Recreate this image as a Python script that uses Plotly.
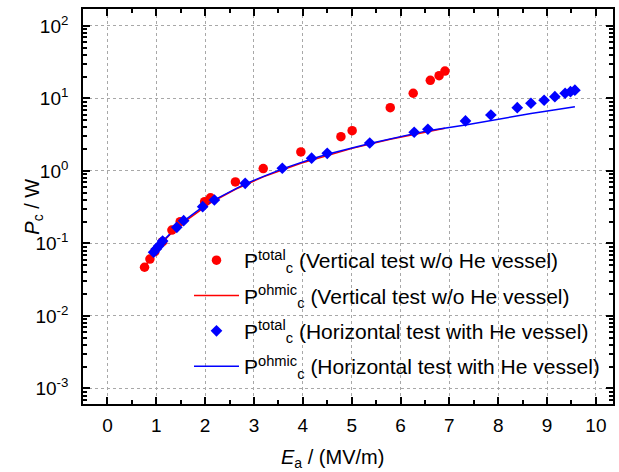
import plotly.graph_objects as go

# ---- data ----
red_x = [0.76, 0.87, 0.97, 1.13, 1.32, 1.49, 1.99, 2.11, 2.62, 3.19, 3.96, 4.78, 5.01, 5.79, 6.26, 6.61, 6.79, 6.91]
red_total = [0.047, 0.061, 0.077, 0.106, 0.153, 0.20, 0.377, 0.427, 0.705, 1.08, 1.83, 2.97, 3.6, 7.47, 11.8, 17.8, 20.6, 23.9]
red_ohmic = [0.047, 0.062, 0.077, 0.104, 0.142, 0.181, 0.323, 0.363, 0.56, 0.83, 1.28, 1.86, 2.05, 2.73, 3.19, 3.56, 3.76, 3.89]

blue_x = [0.945, 1.0, 1.05, 1.13, 1.42, 1.56, 1.95, 2.19, 2.82, 3.58, 4.18, 4.50, 5.37, 6.28, 6.56,
          7.33, 7.85, 8.39, 8.67, 8.94, 9.16, 9.37, 9.48, 9.57]
blue_total = [0.0757, 0.084, 0.092, 0.108, 0.167, 0.206, 0.322, 0.398, 0.676, 1.09, 1.50, 1.75, 2.43, 3.42, 3.76,
              4.9, 5.92, 7.46, 8.59, 9.45, 10.6, 11.8, 12.4, 13.0]
blue_ohmic = [0.075, 0.084, 0.092, 0.107, 0.168, 0.203, 0.32, 0.40, 0.665, 1.07, 1.46, 1.70, 2.40, 3.30, 3.60,
              4.3, 5.0, 5.8, 6.2, 6.6, 7.0, 7.3, 7.5, 7.7]

x_ticks = [0, 1, 2, 3, 4, 5, 6, 7, 8, 9, 10]
y_ticks = [1e-3, 1e-2, 1e-1, 1e0, 1e1, 1e2]
y_ticktext = ["10<sup>-3</sup>", "10<sup>-2</sup>", "10<sup>-1</sup>", "10<sup>0</sup>", "10<sup>1</sup>", "10<sup>2</sup>"]

names = [
    "P<sup>total</sup><sub>c</sub> (Vertical test w/o He vessel)",
    "P<sup>ohmic</sup><sub>c</sub> (Vertical test w/o He vessel)",
    "P<sup>total</sup><sub>c</sub> (Horizontal test with He vessel)",
    "P<sup>ohmic</sup><sub>c</sub> (Horizontal test with He vessel)",
]

RED = "#ff0000"
BLUE = "#0000ff"
FONT = "Arial, Liberation Sans, sans-serif"

fig = go.Figure()
fig.add_trace(go.Scatter(x=red_x, y=red_ohmic, mode="lines", line=dict(color=RED, width=1.5),
                         name=names[1], legendgroup="b", legendrank=2))
fig.add_trace(go.Scatter(x=blue_x, y=blue_ohmic, mode="lines", line=dict(color=BLUE, width=1.5),
                         name=names[3], legendgroup="d", legendrank=4))
fig.add_trace(go.Scatter(x=red_x, y=red_total, mode="markers",
                         marker=dict(symbol="circle", size=9.5, color=RED),
                         name=names[0], legendgroup="a", legendrank=1))
fig.add_trace(go.Scatter(x=blue_x, y=blue_total, mode="markers",
                         marker=dict(symbol="diamond", size=9, color=BLUE),
                         name=names[2], legendgroup="c", legendrank=3))

minor_y = []
for e in range(-4, 3):
    for m in range(2, 10):
        minor_y.append(m * 10 ** e)

axis_common = dict(
    showline=True, linecolor="black", linewidth=1.6, mirror="allticks",
    ticks="inside", ticklen=7, tickwidth=1.5, tickcolor="black",
    showgrid=True, gridcolor="#a8a8a8", griddash="dot", gridwidth=1,
    zeroline=False, tickfont=dict(family=FONT, size=19, color="black"),
)

fig.update_xaxes(
    range=[-0.5, 10.35], tickmode="array", tickvals=x_ticks, ticktext=[str(v) for v in x_ticks],
    minor=dict(ticks="inside", ticklen=4, tickwidth=1.5, tickcolor="black", dtick=0.5, tick0=0, showgrid=False),
    ticklabelstandoff=3,
    **axis_common,
)
fig.update_yaxes(
    type="log", range=[-3.214, 2.234], tickmode="array", tickvals=y_ticks, ticktext=y_ticktext,
    minor=dict(ticks="inside", ticklen=4, tickwidth=1.5, tickcolor="black", tickvals=minor_y, showgrid=False),
    ticklabelstandoff=9,
    **axis_common,
)

fig.add_annotation(text="<i>E</i><sub>a</sub> / (MV/m)", xref="paper", yref="paper", x=0.47, y=-0.137,
                   xanchor="center", yanchor="middle", showarrow=False,
                   font=dict(family=FONT, size=20, color="black"))
fig.add_annotation(text="<i>P</i><sub>c</sub> / W", xref="paper", yref="paper", x=-0.094, y=0.5,
                   xanchor="center", yanchor="middle", showarrow=False, textangle=-90,
                   font=dict(family=FONT, size=20, color="black"))

fig.update_layout(
    width=619, height=472,
    margin=dict(l=83, r=4, t=9, b=68),
    plot_bgcolor="white", paper_bgcolor="white",
    font=dict(family=FONT, size=19, color="black"),
    legend=dict(x=0.2, y=0.415, xanchor="left", yanchor="top", bgcolor="rgba(0,0,0,0)",
                traceorder="grouped", tracegroupgap=5, itemwidth=45,
                font=dict(family=FONT, size=21, color="black")),
    showlegend=True,
)

fig.write_html("out.html")
